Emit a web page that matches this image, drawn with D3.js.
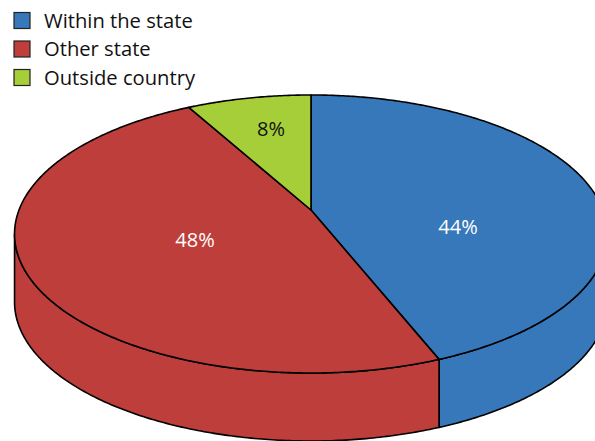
<!DOCTYPE html>
<html>
<head>
<meta charset="utf-8">
<script src="https://cdn.jsdelivr.net/npm/d3@7"></script>
<style>
  html, body { margin: 0; padding: 0; background: #fff; }
  svg { display: block; }
  text { font-family: "Open Sans", sans-serif; }
</style>
</head>
<body>
<svg id="chart" width="595" height="441"></svg>
<script>
const categories = ['Within the state', 'Other state', 'Outside country']
const shares = [44, 48, 8]
const colors = ['#3778bb', '#be3e3c', '#a6ce39']
const labelColors = ['#fff', '#fff', '#111']

const width = 595, height = 441
const svg = d3.select('#chart').attr('width', width).attr('height', height)

// the pie is drawn in perspective, so the disc goes through a projective map
const apex = {x: 311, y: 210}
const radius = 292
const depth = 68
const persp = {a: 98.6, c: -0.1727}

function project(angle, r = 1) {
    let u = r * Math.sin(angle)
    let v = -r * Math.cos(angle)
    let w = 1 + persp.c * v
    return [apex.x + radius * u / w, (persp.a * v + apex.y) / w]
}

function arcPoints(a0, a1, dy = 0) {
    let n = Math.max(2, Math.ceil(Math.abs(a1 - a0) / 0.01))
    return d3.range(n + 1).map(i => {
        let p = project(a0 + (a1 - a0) * i / n)
        return [p[0], p[1] + dy]
    })
}

const line = d3.line()
const slices = d3.pie().sort(null).value(d => d)(shares)

// wall is only visible between the two side extremes of the ellipse
const wallStart = Math.acos(persp.c)
const wallEnd = 2 * Math.PI - wallStart

const walls = svg.append('g')
slices.forEach((s, i) => {
    let a0 = Math.max(s.startAngle, wallStart)
    let a1 = Math.min(s.endAngle, wallEnd)
    if (a1 <= a0) return
    let top = arcPoints(a0, a1)
    let bottom = arcPoints(a1, a0, depth)
    walls.append('path')
        .attr('d', line(top.concat(bottom)) + 'Z')
        .attr('fill', colors[i])
        .attr('stroke', '#000')
        .attr('stroke-width', 1.6)
        .attr('stroke-linejoin', 'round')
})

const tops = svg.append('g')
slices.forEach((s, i) => {
    let pts = [[apex.x, apex.y]].concat(arcPoints(s.startAngle, s.endAngle))
    tops.append('path')
        .attr('d', line(pts) + 'Z')
        .attr('fill', colors[i])
        .attr('stroke', '#000')
        .attr('stroke-width', 1.6)
        .attr('stroke-linejoin', 'round')
})

// percent labels
const labelPos = [[458, 226.5], [195, 239.5], [271, 128.5]]
svg.append('g').selectAll('text')
    .data(shares)
    .join('text')
    .attr('x', (d, i) => labelPos[i][0])
    .attr('y', (d, i) => labelPos[i][1])
    .attr('dy', '0.36em')
    .attr('text-anchor', 'middle')
    .attr('font-size', 20)
    .attr('fill', (d, i) => labelColors[i])
    .text(d => d + '%')

// legend
const legend = svg.append('g')
const rowY = d3.scaleLinear().domain([0, 2]).range([20.7, 77.7])
categories.forEach((c, i) => {
    legend.append('rect')
        .attr('x', 14)
        .attr('y', rowY(i) - 8.2)
        .attr('width', 16)
        .attr('height', 16)
        .attr('fill', colors[i])
        .attr('stroke', '#222')
        .attr('stroke-width', 1.2)
    legend.append('text')
        .attr('x', 44)
        .attr('y', rowY(i))
        .attr('dy', '0.36em')
        .attr('font-size', 20.2)
        .attr('fill', '#111')
        .text(c)
})
</script>
</body>
</html>
